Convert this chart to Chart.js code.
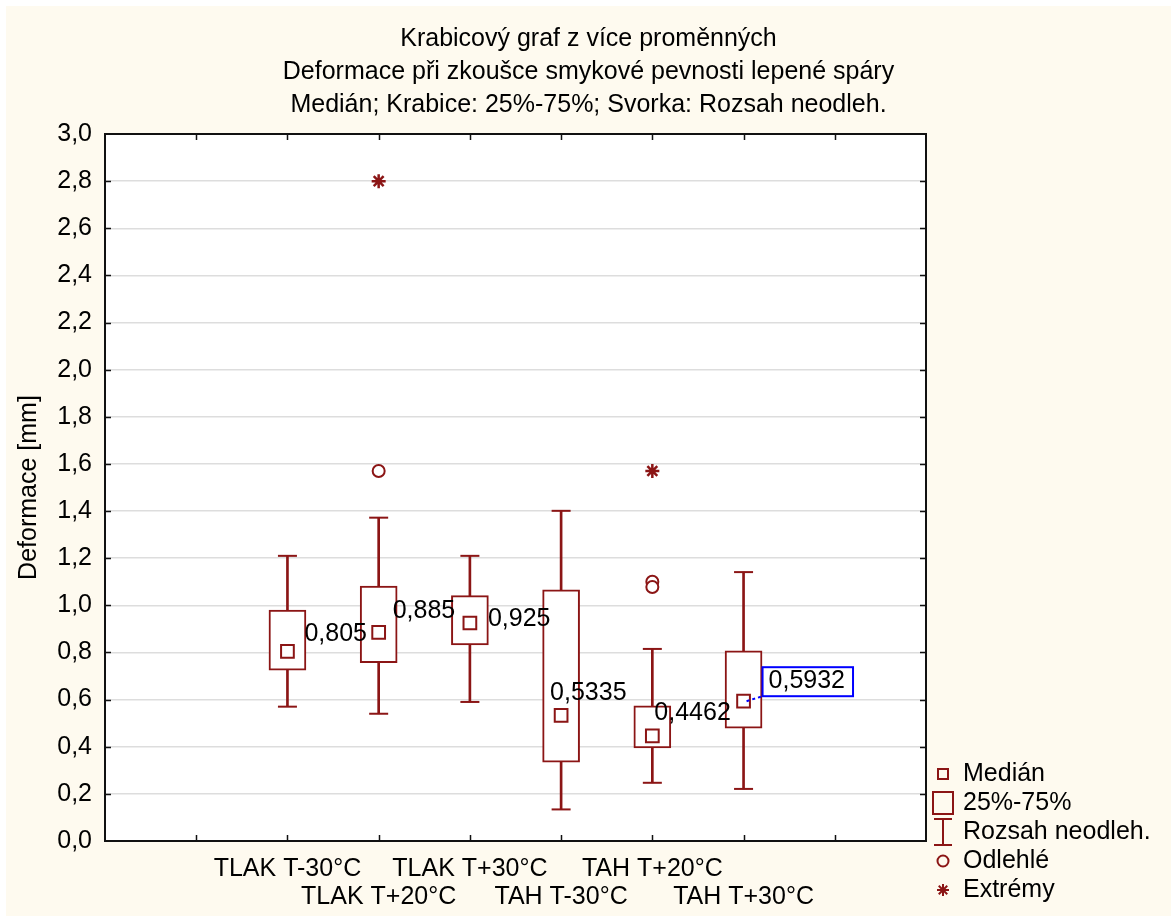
<!DOCTYPE html>
<html>
<head>
<meta charset="utf-8">
<title>Krabicový graf</title>
<script src="https://cdn.jsdelivr.net/npm/chart.js@4.4.0/dist/chart.umd.min.js"></script>
<style>
  html, body { margin: 0; padding: 0; background: #fff; }
</style>
</head>
<body>
<canvas id="boxchart" width="1171" height="916"></canvas>
<script>
(function () {
    "use strict";

    // Data
    var categories = ['TLAK T-30°C', 'TLAK T+20°C', 'TLAK T+30°C', 'TAH T-30°C', 'TAH T+20°C', 'TAH T+30°C'];
    var catPos = [2, 3, 4, 5, 6, 7];
    var medians = [0.805, 0.885, 0.925, 0.5335, 0.4462, 0.5932];
    var q1 = [0.725, 0.757, 0.832, 0.335, 0.395, 0.479];
    var q3 = [0.980, 1.082, 1.041, 1.066, 0.574, 0.807];
    var whiskLow = [0.570, 0.540, 0.590, 0.134, 0.247, 0.221];
    var whiskHigh = [1.210, 1.372, 1.210, 1.401, 0.815, 1.141];
    var outliers = [[], [1.57], [], [], [1.100, 1.078], []];
    var extremes = [[], [2.80], [], [], [1.57], []];
    var yMin = 0, yMax = 3, yStep = 0.2;

    var titleLines = [
        'Krabicový graf z více proměnných',
        'Deformace při zkoušce smykové pevnosti lepené spáry',
        'Medián; Krabice: 25%-75%; Svorka: Rozsah neodleh.'
    ];
    var yTitle = 'Deformace [mm]';
    var legendLabels = ['Medián', '25%-75%', 'Rozsah neodleh.', 'Odlehlé', 'Extrémy'];

    // label offsets (px) of the median values, relative to the median mark
    var labelOffsets = [[17, -17], [14, -21], [18, -4], [-11, -22], [2, -23], [25, -20]];
    var boxedLabel = 5; // the last one sits in a blue frame

    var dark = '#8b1515';
    var font = '"Liberation Sans", Arial, sans-serif';
    Chart.defaults.font.family = font;
    Chart.defaults.font.size = 25;
    Chart.defaults.color = '#000';

    function comma(v) {
        return String(v).replace('.', ',');
    }

    // build library data from the arrays
    var stems = catPos.map(function (x, i) { return { x: x, y: [whiskLow[i], whiskHigh[i]] }; });
    var boxes = catPos.map(function (x, i) { return { x: x, y: [q1[i], q3[i]] }; });
    var caps = [];
    catPos.forEach(function (x, i) {
        caps.push({ x: x, y: whiskLow[i] });
        caps.push({ x: x, y: whiskHigh[i] });
    });
    var medPts = catPos.map(function (x, i) { return { x: x, y: medians[i] }; });
    var outPts = [], extPts = [];
    catPos.forEach(function (x, i) {
        outliers[i].forEach(function (v) { outPts.push({ x: x, y: v }); });
        extremes[i].forEach(function (v) { extPts.push({ x: x, y: v }); });
    });

    // Background, frame, title, labels, legend
    var decor = {
        id: 'decor',
        beforeDraw: function (chart) {
            var c = chart.ctx, a = chart.chartArea;
            c.save();
            c.fillStyle = '#ffffff';
            c.fillRect(0, 0, chart.width, chart.height);
            c.fillStyle = '#fefaef';
            c.fillRect(6, 6, chart.width - 6, chart.height - 6);
            c.fillStyle = '#ffffff';
            c.fillRect(a.left, a.top, a.right - a.left, a.bottom - a.top);
            c.restore();
        },
        afterDraw: function (chart) {
            var c = chart.ctx, a = chart.chartArea;
            var xs = chart.scales.x, ys = chart.scales.y;
            c.save();

            // frame and inward ticks
            c.strokeStyle = '#111';
            c.lineWidth = 2;
            c.strokeRect(a.left, a.top, a.right - a.left, a.bottom - a.top);
            c.lineWidth = 1.5;
            c.beginPath();
            xs.ticks.forEach(function (t) {
                if (t.value <= xs.min || t.value >= xs.max) return;
                var px = Math.round(xs.getPixelForValue(t.value)) + 0.5;
                c.moveTo(px, a.bottom); c.lineTo(px, a.bottom - 6);
                c.moveTo(px, a.top); c.lineTo(px, a.top + 6);
            });
            ys.ticks.forEach(function (t) {
                if (t.value <= ys.min || t.value >= ys.max) return;
                var py = Math.round(ys.getPixelForValue(t.value)) + 0.5;
                c.moveTo(a.left, py); c.lineTo(a.left + 6, py);
                c.moveTo(a.right, py); c.lineTo(a.right - 6, py);
            });
            c.stroke();

            // title
            c.fillStyle = '#000';
            c.font = '25px ' + font;
            c.textAlign = 'center';
            c.textBaseline = 'middle';
            titleLines.forEach(function (s, i) {
                c.fillText(s, chart.width / 2 + 3, 39 + i * 33);
            });

            // median value labels
            c.textAlign = 'left';
            medians.forEach(function (m, i) {
                var px = xs.getPixelForValue(catPos[i]);
                var py = ys.getPixelForValue(m);
                var off = labelOffsets[i];
                if (i === boxedLabel) {
                    var tw = c.measureText(comma(m)).width;
                    var bx = px + off[0] - 6, by = py + off[1] - 14;
                    c.strokeStyle = '#0000ff';
                    c.lineWidth = 2;
                    c.strokeRect(bx, by, tw + 14, 29);
                    c.setLineDash([3, 3]);
                    c.beginPath();
                    c.moveTo(px + 3, py);
                    c.lineTo(bx, by + 29);
                    c.stroke();
                    c.setLineDash([]);
                }
                c.fillStyle = '#000';
                c.fillText(comma(m), px + off[0], py + off[1]);
            });

            // legend
            var lx = a.right + 17, ly = a.bottom - 67, step = 29;
            c.strokeStyle = dark;
            c.fillStyle = '#000';
            c.lineWidth = 2;
            legendLabels.forEach(function (s, i) {
                var y = ly + i * step;
                c.beginPath();
                if (i === 0) {
                    c.rect(lx - 5, y - 5, 10, 10);
                } else if (i === 1) {
                    c.rect(lx - 10, y - 11, 20, 22);
                } else if (i === 2) {
                    c.moveTo(lx - 9, y - 13); c.lineTo(lx + 9, y - 13);
                    c.moveTo(lx, y - 13); c.lineTo(lx, y + 13);
                    c.moveTo(lx - 9, y + 13); c.lineTo(lx + 9, y + 13);
                } else if (i === 3) {
                    c.arc(lx, y, 5.5, 0, Math.PI * 2);
                } else {
                    for (var k = 0; k < 4; k++) {
                        var ang = k * Math.PI / 4;
                        c.moveTo(lx - 6 * Math.cos(ang), y - 6 * Math.sin(ang));
                        c.lineTo(lx + 6 * Math.cos(ang), y + 6 * Math.sin(ang));
                    }
                }
                c.stroke();
                c.textBaseline = 'middle';
                c.fillText(s, lx + 20, y);
            });
            c.restore();
        }
    };

    var ctx = document.getElementById('boxchart').getContext('2d');
    new Chart(ctx, {
        type: 'bar',
        data: {
            datasets: [
                {
                    type: 'bar', data: stems, backgroundColor: dark,
                    barThickness: 2, grouped: false, order: 4
                },
                {
                    type: 'bar', data: boxes, backgroundColor: '#ffffff', borderColor: dark,
                    borderWidth: 2, borderSkipped: false, barThickness: 37, grouped: false, order: 3
                },
                {
                    type: 'scatter', data: caps, pointStyle: 'line', radius: 9.5,
                    borderColor: dark, borderWidth: 2, order: 2
                },
                {
                    type: 'scatter', data: medPts, pointStyle: 'rect', radius: 9,
                    backgroundColor: '#ffffff', borderColor: dark, borderWidth: 2, order: 1
                },
                {
                    type: 'scatter', data: outPts, pointStyle: 'circle', radius: 6,
                    backgroundColor: '#ffffff', borderColor: dark, borderWidth: 2, order: 1
                },
                {
                    type: 'scatter', data: extPts, pointStyle: 'star', radius: 7,
                    borderColor: dark, borderWidth: 2.5, order: 1
                }
            ]
        },
        options: {
            responsive: false,
            animation: false,
            layout: { padding: { top: 134, right: 245, left: 0, bottom: 0 } },
            plugins: {
                legend: { display: false },
                tooltip: { enabled: false }
            },
            scales: {
                x: {
                    type: 'linear', min: 0, max: 9, offset: false,
                    grid: { display: false },
                    border: { display: false },
                    ticks: {
                        stepSize: 1, autoSkip: false, maxRotation: 0, minRotation: 0, padding: 6,
                        font: { size: 25, lineHeight: 1.13 },
                        callback: function (v) {
                            var i = catPos.indexOf(v);
                            if (i < 0) return '';
                            return i % 2 ? ['', categories[i]] : categories[i];
                        }
                    },
                    afterFit: function (s) { s.height = 75; }
                },
                y: {
                    min: yMin, max: yMax,
                    grid: { color: '#dddddd', lineWidth: 1.5, drawTicks: false },
                    border: { display: false },
                    ticks: {
                        stepSize: yStep, padding: 13,
                        callback: function (v) { return v.toFixed(1).replace('.', ','); }
                    },
                    title: {
                        display: true, text: yTitle,
                        padding: { top: 14, bottom: 0 },
                        font: { size: 25 }
                    },
                    afterFit: function (s) { s.width = 105; }
                }
            }
        },
        plugins: [decor]
    });
})();
</script>
</body>
</html>
